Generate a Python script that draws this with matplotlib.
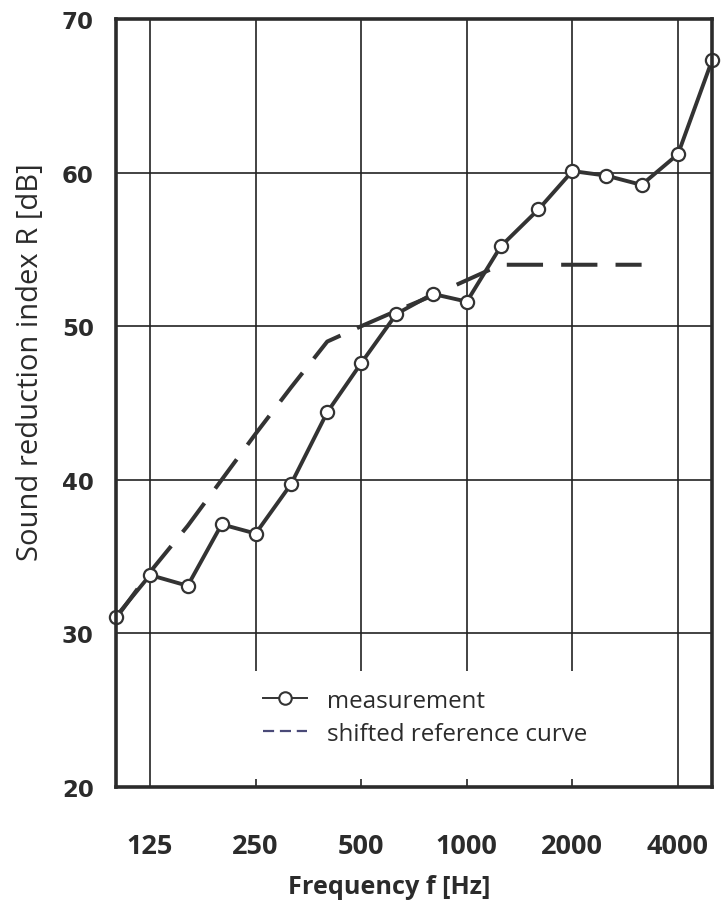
import matplotlib
matplotlib.use("Agg")
import matplotlib.pyplot as plt
from matplotlib.lines import Line2D
from matplotlib.patches import Rectangle
from matplotlib.ticker import NullLocator

# third-octave band centre frequencies [Hz]
freqs = [100, 125, 160, 200, 250, 315, 400, 500, 630, 800, 1000,
         1250, 1600, 2000, 2500, 3150, 4000, 5000]
# measured sound reduction index [dB]
measurement = [31.1, 33.8, 33.1, 37.1, 36.5, 39.7, 44.4, 47.6, 50.8, 52.1,
               51.6, 55.2, 57.6, 60.1, 59.8, 59.2, 61.2, 67.3]
# shifted reference curve (100 - 3150 Hz)
ref_freqs = freqs[:16]
ref_curve = [31, 34, 37, 40, 43, 46, 49, 50, 51, 52, 53, 54, 54, 54, 54, 54]

octave_ticks = [125, 250, 500, 1000, 2000, 4000]
octave_labels = ["125", "250", "500", "1000", "2000", "4000"]
y_ticks = [20, 30, 40, 50, 60, 70]

dark = "#2b2b2b"

fig = plt.figure(figsize=(7.21, 9.04), dpi=100)
ax = fig.add_axes([0.161, 0.1283, 0.8265, 0.8496])

ax.set_xscale("log")
ax.set_xlim(100, 5000)
ax.set_ylim(20, 70)

ax.set_xticks(octave_ticks, octave_labels, fontsize=19.5, fontweight="bold",
              fontfamily="Open Sans", color=dark)
ax.xaxis.set_minor_locator(NullLocator())
ax.set_yticks(y_ticks, [str(v) for v in y_ticks], fontsize=16.5,
              fontweight="bold", fontfamily="DejaVu Sans", color=dark)
ax.tick_params(axis="x", length=0, pad=33)
ax.tick_params(axis="y", length=0, pad=16)

ax.grid(True, color="#222222", linewidth=1.2, zorder=0)
ax.set_axisbelow(True)
for s in ax.spines.values():
    s.set_linewidth(2.6)
    s.set_color(dark)
    s.set_zorder(6)

# blank area behind the legend (grid interrupted there)
ax.add_patch(Rectangle((0.14, 0.0104), 0.74, 0.141, transform=ax.transAxes,
                       facecolor="white", edgecolor="none", zorder=1))

ax.plot(ref_freqs, ref_curve, color="#333333", linewidth=2.9,
        dashes=(9, 4.5), zorder=2)
ax.plot(freqs, measurement, color="#333333", linewidth=2.8, marker="o",
        markersize=9.5, markerfacecolor="white", markeredgecolor="#333333",
        markeredgewidth=1.6, zorder=3, clip_on=False)

handles = [
    Line2D([], [], color="#333333", linewidth=1.4, marker="o", markersize=9,
           markerfacecolor="white", markeredgecolor="#333333",
           markeredgewidth=1.5),
    Line2D([], [], color="#4a4a78", linewidth=1.6, dashes=(5, 2.6)),
]
ax.legend(handles, ["measurement", "shifted reference curve"],
          loc="center left", bbox_to_anchor=(0.247, 0.091), frameon=False,
          borderpad=0, borderaxespad=0, handlelength=1.82, handletextpad=0.83,
          labelspacing=0.37, prop={"family": "Open Sans", "size": 17.4},
          labelcolor=dark)

ax.set_xlabel("Frequency f [Hz]", fontsize=18.2, fontweight="bold",
              fontfamily="Open Sans", color=dark, va="center")
ax.xaxis.set_label_coords(0.458, -0.130)
ax.set_ylabel("Sound reduction index R [dB]", fontsize=21,
              fontfamily="Open Sans", color=dark, va="center")
ax.yaxis.set_label_coords(-0.143, 0.555)

fig.savefig("out.png", dpi=100)
